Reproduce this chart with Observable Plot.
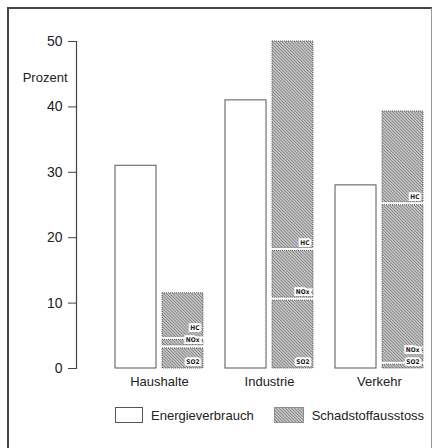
<!DOCTYPE html>
<html>
<head>
<meta charset="utf-8">
<script src="https://cdn.jsdelivr.net/npm/d3@7"></script>
<script src="https://cdn.jsdelivr.net/npm/@observablehq/plot@0.6"></script>
<style>
  html, body { margin: 0; padding: 0; background: #fff; }
  body { width: 440px; height: 448px; position: relative; overflow: hidden;
         font-family: "Liberation Sans", Arial, sans-serif; color: #222; }
  #frame { position: absolute; left: 7px; top: 7px; width: 422px; height: 460px;
           border-left: 2px solid #444; border-top: 2px solid #444; border-right: 1px solid #999; }
  #chart { position: absolute; left: 0; top: 0; }
  #legend { position: absolute; top: 407px; left: 115px; display: flex; align-items: center;
            font-size: 13px; white-space: nowrap; }
  .sw { width: 28px; height: 16px; border: 1px solid #555; box-sizing: border-box; margin-right: 8px; }
  .sw.e { background: #fff; }
</style>
</head>
<body>
<div id="frame"></div>
<div id="chart"></div>
<div id="legend">
  <div class="sw e"></div><span style="margin-right:20px">Energieverbrauch</span>
  <svg width="30" height="16" style="margin-right:8px"><defs>
    <pattern id="hatchL" width="2.2" height="2.2" patternUnits="userSpaceOnUse" patternTransform="rotate(-45)">
      <rect width="2.2" height="2.2" fill="#cfcfcf"></rect><rect width="0.9" height="2.2" fill="#7e7e7e"></rect>
    </pattern></defs>
    <rect x="0.5" y="0.5" width="29" height="15" fill="url(#hatchL)" stroke="#444" stroke-dasharray="1,1"></rect>
  </svg><span>Schadstoffausstoss</span>
</div>
<script>
const categories = ["Haushalte", "Industrie", "Verkehr"];
const energie = [31, 41, 28];
const pollutants = ["SO2", "NOx", "HC"];
const so2 = [3.3, 10.6, 0.8];
const nox = [1.3, 7.6, 24.4];
const hc = [6.9, 31.8, 14.1];
const yTicks = [0, 10, 20, 30, 40, 50];

const energieData = categories.map((c, i) => ({category: c, value: energie[i]}));
const series = [so2, nox, hc];
const segments = [];
const minLabelGap = 1.8; // keep stacked labels from colliding (in y units)
categories.forEach((c, i) => {
  let base = 0, prevLabel = -Infinity;
  series.forEach((s, j) => {
    const labelY = Math.max(base, prevLabel + minLabelGap);
    segments.push({category: c, pollutant: pollutants[j], order: j, y1: base, y2: base + s[i], labelY});
    prevLabel = labelY;
    base += s[i];
  });
});
const last = pollutants.length - 1;

const hatchFill = "url(#hatch)";
const segStyle = {x: "category", y1: "y1", y2: "y2", insetLeft: 47, fill: hatchFill,
                  stroke: "#444", strokeWidth: 0.8, strokeDasharray: "1,1"};

const chart = Plot.plot({
  width: 440,
  height: 392,
  marginLeft: 76,
  marginRight: 10,
  marginTop: 41,
  marginBottom: 24,
  style: {fontFamily: "Liberation Sans, Arial, sans-serif", color: "#222", background: "transparent"},
  x: {domain: categories, type: "band", paddingInner: 0.2, paddingOuter: 0.209, align: 0.848},
  y: {domain: [0, 50]},
  marks: [
    Plot.frame({anchor: "left", stroke: "#444", strokeWidth: 1.2}),
    Plot.axisY({ticks: yTicks, tickSize: 8, tickPadding: 6, fontSize: 14, label: null, stroke: "#444"}),
    Plot.axisX({tickSize: 0, tickPadding: 8, fontSize: 13, label: null}),
    Plot.text(["Prozent"], {frameAnchor: "top-left", dx: -9, dy: 31, textAnchor: "end", fontSize: 13}),
    Plot.barY(energieData, {x: "category", y: "value", insetRight: 47, fill: "white", stroke: "#555", strokeWidth: 1}),
    Plot.barY(segments.filter(d => d.order === 0), {...segStyle, insetTop: 1.5}),
    Plot.barY(segments.filter(d => d.order > 0 && d.order < last), {...segStyle, insetTop: 1.5, insetBottom: 1.5}),
    Plot.barY(segments.filter(d => d.order === last), {...segStyle, insetBottom: 1.5}),
    Plot.text(segments, {x: "category", y: "labelY", text: "pollutant", dx: 40, dy: -7, textAnchor: "end",
      fontSize: 6.5, fontWeight: "bold", fill: "#222", stroke: "white", strokeWidth: 4, strokeLinejoin: "miter",
      fontFamily: "DejaVu Sans Condensed, DejaVu Sans, sans-serif"})
  ]
});

d3.select(chart).insert("defs", ":first-child").html(`
  <pattern id="hatch" width="2.2" height="2.2" patternUnits="userSpaceOnUse" patternTransform="rotate(-45)">
    <rect width="2.2" height="2.2" fill="#cfcfcf"></rect><rect width="0.9" height="2.2" fill="#7e7e7e"></rect>
  </pattern>`);

document.getElementById("chart").appendChild(chart);
</script>
</body>
</html>
